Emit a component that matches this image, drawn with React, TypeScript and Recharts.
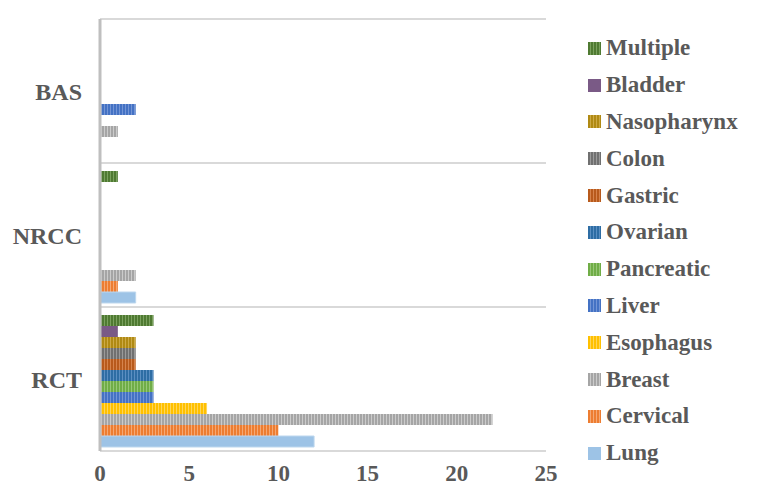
import { BarChart, Bar, XAxis, YAxis, CartesianGrid } from "recharts"

const categories = ["BAS", "NRCC", "RCT"]

const lung = [0, 2, 12]
const cervical = [0, 1, 10]
const breast = [1, 2, 22]
const esophagus = [0, 0, 6]
const liver = [2, 0, 3]
const pancreatic = [0, 0, 3]
const ovarian = [0, 0, 3]
const gastric = [0, 0, 2]
const colon = [0, 0, 2]
const nasopharynx = [0, 0, 2]
const bladder = [0, 0, 1]
const multiple = [0, 1, 3]

const xTicks = [0, 5, 10, 15, 20, 25]

// legend order, bottom to top as drawn in each category
const series = [
  { key: "Lung", values: lung, base: "#9dc3e6", stripe: "#9dc3e6" },
  { key: "Cervical", values: cervical, base: "#ed7d31", stripe: "#f5a874" },
  { key: "Breast", values: breast, base: "#a5a5a5", stripe: "#cbcbcb" },
  { key: "Esophagus", values: esophagus, base: "#ffc000", stripe: "#ffd65a" },
  { key: "Liver", values: liver, base: "#4472c4", stripe: "#7395d6" },
  { key: "Pancreatic", values: pancreatic, base: "#70ad47", stripe: "#98c778" },
  { key: "Ovarian", values: ovarian, base: "#2e6da4", stripe: "#5b8fc2" },
  { key: "Gastric", values: gastric, base: "#b85a1c", stripe: "#d6834c" },
  { key: "Colon", values: colon, base: "#707070", stripe: "#9a9a9a" },
  { key: "Nasopharynx", values: nasopharynx, base: "#b08a14", stripe: "#cdaa46" },
  { key: "Bladder", values: bladder, base: "#7a5a86", stripe: "#7a5a86" },
  { key: "Multiple", values: multiple, base: "#4f7a32", stripe: "#7aa15e" },
]

const data = categories.map((name, i) => {
  const row: Record<string, string | number> = { name }
  series.forEach((s) => (row[s.key] = s.values[i]))
  return row
})

const font = "'Times New Roman', 'Liberation Serif', 'DejaVu Serif', serif"
const textColor = "#595959"

function Swatch({ s }: { s: (typeof series)[number] }) {
  return (
    <svg width={13} height={13} style={{ marginRight: 5, flex: "none" }}>
      <defs>
        <pattern id={`leg-${s.key}`} patternUnits="userSpaceOnUse" width={3} height={13}>
          <rect width={3} height={13} fill={s.stripe} />
          <rect width={2} height={13} fill={s.base} />
        </pattern>
      </defs>
      <rect width={13} height={13} fill={`url(#leg-${s.key})`} />
    </svg>
  )
}

export default function App() {
  return (
    <div style={{ margin: -8, width: 757, height: 502, position: "relative", background: "#fff" }}>
      <div style={{ position: "absolute", left: 755, top: 0, width: 1, height: 502, background: "#d9d9d9" }} />
      <BarChart
        width={757}
        height={502}
        data={data}
        layout="vertical"
        margin={{ top: 19, right: 211, bottom: 21, left: 0 }}
        barCategoryGap={8}
        barGap={0}
      >
        <defs>
          {series.map((s) => (
            <pattern key={s.key} id={`pat-${s.key}`} patternUnits="userSpaceOnUse" width={3} height={10}>
              <rect width={3} height={10} fill={s.stripe} />
              <rect width={2} height={10} fill={s.base} />
            </pattern>
          ))}
        </defs>
        <CartesianGrid
          vertical={false}
          stroke="#d9d9d9"
          strokeWidth={2}
          horizontalCoordinatesGenerator={({ offset }: any) =>
            categories.map((_, i) => offset.top + (i * offset.height) / categories.length).concat(offset.top + offset.height)
          }
        />
        <XAxis
          type="number"
          domain={[0, 25]}
          ticks={xTicks}
          axisLine={false}
          tickLine={false}
          tickMargin={8}
          height={30}
          tick={{ fill: textColor, fontSize: 23, fontWeight: 700, fontFamily: font }}
        />
        <YAxis
          type="category"
          dataKey="name"
          width={100}
          axisLine={{ stroke: "#bfbfbf", strokeWidth: 3 }}
          tickLine={false}
          tickMargin={12}
          tick={{ fill: textColor, fontSize: 24, fontWeight: 700, fontFamily: font }}
        />
        {[...series].reverse().map((s) => (
          <Bar
            key={s.key}
            dataKey={s.key}
            fill={`url(#pat-${s.key})`}
            stroke={s.key === "Lung" ? "#bdd7ee" : undefined}
            isAnimationActive={false}
          />
        ))}
      </BarChart>
      <div
        style={{
          position: "absolute",
          left: 588,
          top: 30,
          fontFamily: font,
          fontWeight: 700,
          fontSize: 23,
          color: textColor,
        }}
      >
        {[...series].reverse().map((s) => (
          <div key={s.key} style={{ display: "flex", alignItems: "center", height: 36.8 }}>
            <Swatch s={s} />
            <span>{s.key}</span>
          </div>
        ))}
      </div>
    </div>
  )
}
